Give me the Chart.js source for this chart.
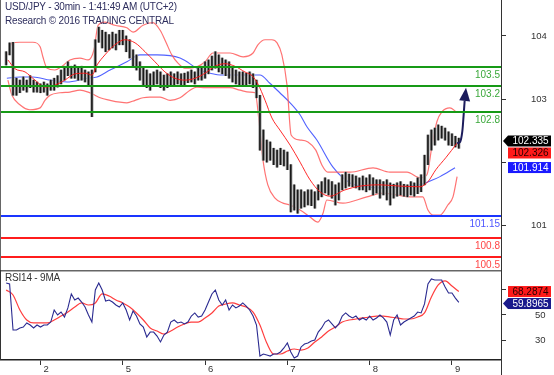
<!DOCTYPE html>
<html>
<head>
<meta charset="utf-8">
<script src="https://cdn.jsdelivr.net/npm/chart.js@4.4.1/dist/chart.umd.min.js"></script>
<style>
  html, body { margin: 0; padding: 0; background: #fff; }
  #wrap { position: relative; width: 554px; height: 375px; overflow: hidden; }
  canvas { position: absolute; left: 0; }
  #c1 { top: 0; }
  #c2 { top: 270px; }
  .note { position: absolute; left: 5px; font: 10px/12px "Liberation Sans", Arial, sans-serif; letter-spacing: -0.2px; color: #2e2e5e; white-space: nowrap; }
</style>
</head>
<body>
<div id="wrap">
  <canvas id="c1" width="554" height="270"></canvas>
  <canvas id="c2" width="554" height="105"></canvas>
  <div class="note" style="top:1px">USD/JPY - 30min - 1:41:49 AM (UTC+2)</div>
  <div class="note" style="top:15px">Research © 2016 TRADING CENTRAL</div>
  <div class="note" style="top:272px;color:#333">RSI14 - 9MA</div>
</div>
<script>
// hours counted from the open of day "2"; one bar per hour
const barStart = -10;

const priceHigh = [
  103.75,103.89,103.90,103.33,103.30,103.35,103.30,103.37,103.30,103.27,
  103.24,103.27,103.24,103.30,103.33,103.37,103.46,103.52,103.59,103.52,
  103.54,103.49,103.52,103.46,103.43,103.46,103.94,104.14,104.09,104.06,
  104.02,104.06,104.03,104.09,104.09,104.00,103.94,103.78,103.70,103.59,
  103.49,103.46,103.40,103.43,103.46,103.43,103.38,103.40,103.43,103.40,
  103.43,103.40,103.41,103.43,103.46,103.43,103.49,103.52,103.59,103.62,
  103.68,103.75,103.70,103.65,103.62,103.59,103.52,103.46,103.43,103.43,
  103.41,103.43,103.40,103.30,103.06,102.51,102.35,102.32,102.22,102.19,
  102.22,102.19,102.16,101.96,101.64,101.56,101.56,101.53,101.56,101.56,
  101.53,101.64,101.69,101.75,101.72,101.69,101.64,101.67,101.80,101.84,
  101.81,101.80,101.78,101.75,101.78,101.75,101.80,101.75,101.72,101.72,
  101.69,101.72,101.67,101.65,101.67,101.69,101.65,101.64,101.69,101.67,
  101.75,101.80,102.11,102.43,102.51,102.54,102.59,102.57,102.54,102.48,
  102.45,102.41,102.38
];
const priceLow = [
  103.54,103.70,103.06,103.06,103.10,103.14,103.11,103.18,103.11,103.11,
  103.10,103.11,103.06,103.14,103.14,103.19,103.24,103.30,103.37,103.33,
  103.33,103.30,103.30,103.27,103.22,102.72,103.43,103.90,103.81,103.75,
  103.78,103.81,103.78,103.86,103.86,103.75,103.65,103.52,103.46,103.30,
  103.22,103.18,103.14,103.21,103.24,103.18,103.14,103.18,103.22,103.21,
  103.24,103.21,103.22,103.26,103.27,103.24,103.30,103.30,103.33,103.40,
  103.46,103.49,103.43,103.40,103.37,103.33,103.27,103.24,103.21,103.22,
  103.21,103.24,103.18,103.02,102.19,102.03,102.00,102.03,101.96,101.92,
  101.96,101.94,101.88,101.21,101.24,101.19,101.27,101.29,101.32,101.31,
  101.27,101.40,101.45,101.51,101.48,101.43,101.32,101.40,101.56,101.59,
  101.62,101.61,101.59,101.56,101.56,101.53,101.56,101.48,101.51,101.43,
  101.48,101.40,101.32,101.43,101.46,101.48,101.46,101.45,101.48,101.46,
  101.50,101.53,101.64,101.96,102.19,102.27,102.35,102.38,102.35,102.27,
  102.26,102.24,102.22
];

// Bollinger bands and moving average (hour, price)
const upperH = [-9.5,-8.3,-6.0,-2.2,-0.1,0.7,1.9,4.2,6.3,8.6,11.5,13.9,15.6,16.8,18.8,21.7,25.2,27.0,29.9,32.8,34.9,36.6,38.3,40.1,42.1,45.6,48.0,50.3,55.3,59.1,62.0,63.4,65.5,67.5,69.0,70.4,71.9,73.1,75.7,78.0,80.3,82.1,83.8,87.3,90.3,97.0,101.9,106.9,110.7,112.7,114.2,115.6,117.1,119.4,121.2];
const upperP = [103.70,103.89,103.90,103.90,103.83,103.67,103.49,103.46,103.52,103.62,103.65,103.62,103.78,104.17,104.22,104.17,104.13,104.06,104.17,104.21,104.09,103.90,103.70,103.57,103.49,103.51,103.59,103.73,103.73,103.67,103.73,103.86,103.94,103.94,103.89,103.70,103.22,102.43,102.35,102.32,102.19,101.95,101.84,101.84,101.84,101.91,101.84,101.84,101.75,101.80,102.27,102.64,102.80,102.86,102.80];
const midH = [-9.5,-7.4,-4.5,-1.6,1.3,4.2,7.1,10.1,13.0,15.0,16.5,18.8,21.7,24.6,27.6,30.5,33.4,36.3,39.2,42.1,45.1,48.0,50.9,53.8,56.7,59.6,61.7,63.4,65.5,67.5,69.8,72.8,75.7,78.6,81.5,84.4,88.8,93.2,99.0,104.8,110.7,113.0,115.3,118.2,121.5];
const midP = [103.62,103.48,103.43,103.30,103.19,103.22,103.30,103.40,103.41,103.38,103.54,103.70,103.86,103.94,103.89,103.75,103.59,103.43,103.33,103.30,103.33,103.41,103.52,103.56,103.52,103.43,103.37,103.24,102.98,102.70,102.51,102.27,102.00,101.72,101.53,101.46,101.56,101.62,101.64,101.62,101.61,101.69,101.88,102.07,102.30];
const lowerH = [-9.5,-8.3,-6.0,-3.1,-0.1,1.3,2.8,5.7,8.6,11.5,13.9,15.9,17.4,20.3,23.2,25.2,27.6,29.9,31.9,34.9,37.8,40.7,43.6,45.6,48.0,50.9,55.3,58.2,61.1,62.6,63.7,64.9,66.3,68.4,70.7,72.8,75.7,78.6,80.9,82.4,83.5,88.2,95.2,99.9,107.8,111.5,113.0,114.5,116.5,118.8,120.3,121.5];
const lowerP = [103.30,103.06,102.91,102.83,102.86,102.98,103.06,103.10,103.11,103.14,103.11,103.06,103.02,102.98,102.95,102.94,102.98,103.02,103.03,103.03,102.98,103.02,103.14,103.19,103.18,103.18,103.18,103.14,103.11,103.10,102.67,102.03,101.64,101.43,101.35,101.32,101.24,101.13,101.05,101.19,101.40,101.35,101.45,101.51,101.45,101.45,101.24,101.16,101.16,101.32,101.45,101.77];
const maH = [-9.8,-6.0,-2.2,2.8,7.7,13.6,16.5,20.3,25.2,29.0,34.0,40.7,46.5,49.4,53.2,57.3,61.7,64.0,66.9,69.8,72.8,75.7,77.7,80.6,85.3,90.3,95.2,99.9,104.8,110.7,114.5,116.5,120.9];
const maP = [103.33,103.35,103.35,103.30,103.27,103.33,103.35,103.46,103.59,103.70,103.70,103.65,103.46,103.41,103.38,103.38,103.38,103.38,103.25,103.10,102.94,102.75,102.56,102.35,101.92,101.67,101.61,101.59,101.61,101.64,101.72,101.77,101.91];

// projected path
const arrowH = [121.5, 122.4, 123.0, 123.3, 123.7];
const arrowP = [102.30, 102.32, 102.48, 102.67, 102.97];
const arrowTip = [124.1, 103.18];

// key levels
const levelValues = [103.5, 103.2, 102.8, 101.15, 100.8, 100.5];
const levelLabels = ['103.5', '103.2', '102.8', '101.15', '100.8', '100.5'];
const levelKinds = ['target', 'target', 'target', 'pivot', 'support', 'support'];

const markerValues = [102.335, 102.326, 101.914];
const markerLabels = ['102.335', '102.326', '101.914'];

const rsi = [
  74.9,74.2,38.3,38.3,39.9,40.6,43.8,42.2,39.9,42.2,
  40.6,42.2,42.2,44.5,53.9,50.0,52.3,48.4,55.5,66.4,
  61.7,63.2,60.1,56.2,50.0,44.5,69.5,74.9,69.5,60.9,
  61.7,60.1,57.8,56.2,59.4,53.9,46.1,53.1,49.2,43.0,
  40.6,32.9,36.7,36.7,33.6,29.0,34.4,36.7,44.5,46.1,
  43.8,44.5,43.0,44.5,49.2,51.6,48.4,49.2,53.9,60.1,
  66.4,69.5,61.7,57.8,61.7,53.9,57.8,55.5,57.0,59.4,
  57.0,53.9,49.2,42.2,18.0,19.6,18.8,18.0,19.6,19.6,
  21.2,24.3,28.2,21.2,16.5,18.0,25.1,27.4,28.2,29.7,
  30.5,36.7,39.9,44.5,46.1,43.0,39.9,43.0,49.2,51.6,
  49.2,47.7,49.2,46.1,47.7,46.1,49.2,46.1,47.7,50.0,
  47.7,44.5,34.4,46.1,50.0,42.2,44.5,46.1,47.7,49.2,
  52.3,51.6,58.6,74.2,78.1,77.3,77.3,77.3,71.8,67.1,
  67.1,63.2,59.9
];
const rsiMaStep = 2;
const rsiMa = [
  69.5,65.6,53.9,46.1,43.8,43.8,43.8,46.1,49.2,52.3,
  56.2,59.4,57.8,59.4,66.4,64.8,61.7,59.4,56.2,51.6,
  46.1,39.9,37.5,35.2,37.5,40.6,43.0,44.5,44.5,47.7,
  51.6,57.0,58.6,59.4,57.8,56.2,52.3,42.2,28.2,19.6,
  19.6,21.9,23.5,22.7,24.3,29.0,32.9,37.5,40.6,44.5,
  46.1,46.9,47.7,48.4,49.2,49.2,48.4,47.7,46.9,46.9,
  48.4,51.6,64.0,73.4,76.6,72.6,68.3
];
const rsiMarkerValues = [68.2874, 59.8965];
const rsiMarkerLabels = ['68.2874', '59.8965'];

const dayTicks = [0, 24, 48, 72, 96, 120];
const dayLabels = ['2', '5', '6', '7', '8', '9'];
const priceTicks = [101, 102, 103, 104];
const rsiTicks = [30, 50, 70];

// ---------------------------------------------------------------

const FAMILY = '"Liberation Sans", Arial, sans-serif';
Chart.defaults.font.family = FAMILY;
const tickFont = { family: FAMILY, size: 9.5 };
const xMin = -11.8, xMax = 134.3;

const hours = priceHigh.map((_, i) => barStart + i);
const pts = (hs, vs) => hs.map((h, i) => ({ x: h, y: vs[i] }));
const bars = () => hours.map((h, i) => ({ x: h, y: [priceLow[i], priceHigh[i]] }));

const levelStyle = {
  target: { line: '#169a16', text: '#3aa83a' },
  pivot: { line: '#1a35ff', text: '#4d55ff' },
  support: { line: '#ff1c1c', text: '#ff4545' },
};

function drawMarkers(chart, values, labels, styles) {
  const { ctx, chartArea: a, scales: { y } } = chart;
  const h = 11;
  const x0 = a.right + 7, x1 = a.right + 50;
  const items = values.map((v, i) => ({ i, py: y.getPixelForValue(v) })).sort((p, q) => p.py - q.py);
  let prev = -1e9;
  ctx.save();
  ctx.font = '10px ' + FAMILY;
  ctx.textAlign = 'center';
  ctx.textBaseline = 'middle';
  items.forEach((it) => {
    if (it.py < prev + h + 1) it.py = prev + h + 1;
    prev = it.py;
    const st = styles[it.i];
    ctx.fillStyle = st.bg;
    ctx.fillRect(x0, it.py - h / 2, x1 - x0, h);
    if (st.arrow) {
      ctx.beginPath();
      ctx.moveTo(a.right + 2, it.py);
      ctx.lineTo(x0, it.py - h / 2);
      ctx.lineTo(x0, it.py + h / 2);
      ctx.closePath();
      ctx.fill();
    }
    ctx.fillStyle = st.fg;
    ctx.fillText(labels[it.i], (x0 + x1) / 2 + 1, it.py + 0.5);
  });
  ctx.restore();
}

const mainOverlay = {
  id: 'mainOverlay',
  afterDatasetsDraw(chart) {
    const { ctx, chartArea: a, scales: { x, y } } = chart;
    ctx.save();
    ctx.font = '10px ' + FAMILY;
    ctx.textAlign = 'right';
    ctx.textBaseline = 'middle';
    levelValues.forEach((v, i) => {
      const st = levelStyle[levelKinds[i]];
      const py = Math.round(y.getPixelForValue(v));
      ctx.strokeStyle = st.line;
      ctx.lineWidth = 2;
      ctx.beginPath();
      ctx.moveTo(a.left, py);
      ctx.lineTo(a.right, py);
      ctx.stroke();
      ctx.fillStyle = st.text;
      ctx.fillText(levelLabels[i], a.right - 1, py + 8);
    });
    // arrow head
    const tx = x.getPixelForValue(arrowTip[0]), ty = y.getPixelForValue(arrowTip[1]);
    const bx = x.getPixelForValue(arrowH[arrowH.length - 1]), by = y.getPixelForValue(arrowP[arrowP.length - 1]);
    const len = Math.hypot(tx - bx, ty - by), ux = (tx - bx) / len, uy = (ty - by) / len;
    ctx.fillStyle = '#1c1c5c';
    ctx.beginPath();
    ctx.moveTo(tx, ty);
    ctx.lineTo(bx - uy * 5.5, by + ux * 5.5);
    ctx.lineTo(bx + uy * 5.5, by - ux * 5.5);
    ctx.closePath();
    ctx.fill();
    // left frame
    ctx.strokeStyle = '#666';
    ctx.lineWidth = 1;
    ctx.beginPath();
    ctx.moveTo(0.5, 0);
    ctx.lineTo(0.5, a.bottom);
    ctx.stroke();
    ctx.restore();
  },
  afterDraw(chart) {
    drawMarkers(chart, markerValues, markerLabels, [
      { bg: '#000', fg: '#fff', arrow: true },
      { bg: '#ff1a1a', fg: '#2a0000' },
      { bg: '#1a1aff', fg: '#fff' },
    ]);
  },
};

const rsiOverlay = {
  id: 'rsiOverlay',
  afterDraw(chart) {
    const { ctx, chartArea: a } = chart;
    ctx.save();
    ctx.strokeStyle = '#666';
    ctx.lineWidth = 1.5;
    ctx.beginPath();
    ctx.moveTo(0, a.top + 0.75);
    ctx.lineTo(a.right, a.top + 0.75);
    ctx.stroke();
    ctx.strokeStyle = '#333';
    ctx.lineWidth = 1;
    ctx.beginPath();
    ctx.moveTo(a.right + 0.5, 0);
    ctx.lineTo(a.right + 0.5, chart.height);
    ctx.moveTo(0.5, 0);
    ctx.lineTo(0.5, a.bottom);
    ctx.stroke();
    ctx.restore();
    drawMarkers(chart, rsiMarkerValues, rsiMarkerLabels, [
      { bg: '#ff1a1a', fg: '#2a0000' },
      { bg: '#1a1a8c', fg: '#fff', arrow: true },
    ]);
  },
};

const rightAxis = (min, max, ticks, hidden, pad) => ({
  position: 'right',
  min, max,
  afterBuildTicks(s) { s.ticks = ticks.map((v) => ({ value: v })); },
  afterFit(s) { s.width = 53; s.paddingTop = 0; s.paddingBottom = 0; },
  ticks: { callback: (v) => (v === hidden ? '' : String(v)), padding: pad, color: '#333', font: tickFont },
  grid: { drawOnChartArea: false, drawTicks: true, tickLength: 5, color: '#333' },
  border: { display: true, color: '#333' },
});

new Chart(document.getElementById('c1'), {
  type: 'bar',
  data: {
    datasets: [
      { type: 'line', data: pts(arrowH, arrowP), borderColor: '#1c1c5c', borderWidth: 2, pointRadius: 0, tension: 0.3, order: 0 },
      { type: 'line', data: pts(midH, midP), borderColor: 'rgba(255,20,20,0.9)', borderWidth: 1, pointRadius: 0, cubicInterpolationMode: 'monotone', order: 1 },
      { data: bars(), backgroundColor: '#1a1a1a', barThickness: 1, grouped: false, order: 2 },
      { data: bars(), backgroundColor: '#a8a8a8', barThickness: 2.6, grouped: false, order: 3 },
      { type: 'line', data: pts(upperH, upperP), borderColor: 'rgba(255,90,90,0.85)', borderWidth: 1.2, pointRadius: 0, cubicInterpolationMode: 'monotone', order: 4 },
      { type: 'line', data: pts(lowerH, lowerP), borderColor: 'rgba(255,90,90,0.85)', borderWidth: 1.2, pointRadius: 0, cubicInterpolationMode: 'monotone', order: 4 },
      { type: 'line', data: pts(maH, maP), borderColor: 'rgba(50,70,255,0.85)', borderWidth: 1.1, pointRadius: 0, cubicInterpolationMode: 'monotone', order: 4 },
    ],
  },
  options: {
    responsive: false,
    animation: false,
    devicePixelRatio: 1,
    layout: { padding: 0 },
    plugins: { legend: { display: false }, tooltip: { enabled: false } },
    scales: {
      x: { type: 'linear', min: xMin, max: xMax, offset: false, display: false },
      y: rightAxis(100.29, 104.57, priceTicks, 102, 25),
    },
  },
  plugins: [mainOverlay],
});

new Chart(document.getElementById('c2'), {
  type: 'line',
  data: {
    datasets: [
      { data: pts(hours, rsi), borderColor: '#2a2a90', borderWidth: 1.1, pointRadius: 0 },
      { data: rsiMa.map((v, i) => ({ x: barStart + i * rsiMaStep, y: v })), borderColor: 'rgba(255,40,40,0.9)', borderWidth: 1.2, pointRadius: 0, cubicInterpolationMode: 'monotone' },
    ],
  },
  options: {
    responsive: false,
    animation: false,
    devicePixelRatio: 1,
    layout: { padding: 0 },
    plugins: { legend: { display: false }, tooltip: { enabled: false } },
    scales: {
      x: {
        type: 'linear', min: xMin, max: xMax, offset: false, position: 'bottom',
        afterBuildTicks(s) { s.ticks = dayTicks.map((v) => ({ value: v })); },
        afterFit(s) { s.height = 15; s.paddingLeft = 0; s.paddingRight = 0; },
        ticks: { callback: (v) => dayLabels[dayTicks.indexOf(v)], align: 'start', labelOffset: 3, padding: -1, maxRotation: 0, autoSkip: false, color: '#333', font: tickFont },
        grid: { drawOnChartArea: false, drawTicks: true, tickLength: 5, color: '#333' },
        border: { display: true, color: '#222', width: 1.5 },
      },
      y: rightAxis(14.93, 85.07, rsiTicks, 70, 29),
    },
  },
  plugins: [rsiOverlay],
});
</script>
</body>
</html>
